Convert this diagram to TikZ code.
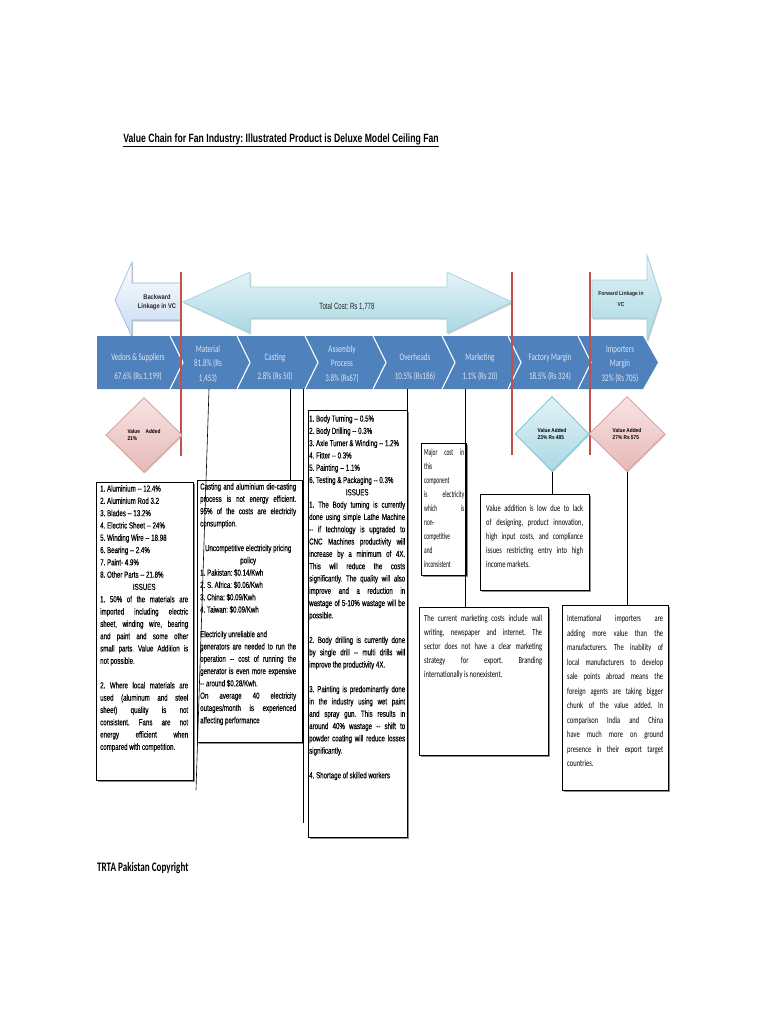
\documentclass[tikz,border=0pt]{standalone}
\usepackage{fontspec}
\setmainfont{Liberation Sans}
\newfontfamily\narrowA{Liberation Sans}[FakeStretch=0.70,FakeBold=0.25]
\newfontfamily\narrowB{Liberation Sans}[FakeStretch=0.85]
\newfontfamily\titlefont{Liberation Sans}[FakeStretch=0.72]
\newfontfamily\narrowC{Carlito}[FakeStretch=0.70]
\newfontfamily\narrowD{Carlito}[FakeStretch=0.58]
\usetikzlibrary{shapes.geometric,shadows}
\definecolor{chev}{HTML}{4F81BD}
\definecolor{chevtxt}{HTML}{DCE6F2}
\definecolor{redl}{HTML}{C0504D}
\definecolor{pinkT}{HTML}{F7E4E3}
\definecolor{pinkB}{HTML}{E6B9B8}
\definecolor{pinkD}{HTML}{D99694}
\definecolor{cyanT}{HTML}{E4F3F7}
\definecolor{cyanB}{HTML}{A9D8E4}
\definecolor{cyanD}{HTML}{6FC0D4}
\definecolor{backT}{HTML}{FFFFFF}
\definecolor{backB}{HTML}{C6D9F1}
\definecolor{backD}{HTML}{95B3D7}
\tikzset{
  chevlabel/.style={text=chevtxt, align=center, inner sep=0pt, font=\narrowC\fontsize{10}{19}\selectfont},
  chevlabelthree/.style={chevlabel, font=\narrowC\fontsize{10}{14.5}\selectfont},
  redline/.style={draw=redl, line width=2.6pt},
  panel/.style={draw=black, line width=0.6pt, fill=white, inner sep=0pt, anchor=north west,
    drop shadow={shadow xshift=1.3pt, shadow yshift=-1.3pt, fill=black!45, opacity=1}},
  txtA/.style={anchor=north west, inner sep=0pt, align=justify, font=\narrowA\fontsize{8.8}{12.3}\selectfont},
  txtC/.style={anchor=north west, inner sep=0pt, align=justify, font=\narrowC\fontsize{9.3}{14}\selectfont},
  conn/.style={draw=black, line width=0.6pt},
  vdiamond/.style={diamond, aspect=1, inner sep=0pt, minimum width=76pt, minimum height=75pt,
    align=left, font=\narrowB\bfseries\fontsize{5.6}{6.6}\selectfont,
    drop shadow={shadow xshift=1pt, shadow yshift=-1pt, fill=black!30, opacity=0.6}},
  pinkdia/.style={vdiamond, top color=pinkT, bottom color=pinkB, draw=pinkD, line width=0.7pt},
  cyandia/.style={vdiamond, top color=cyanT, bottom color=cyanB, draw=cyanD, line width=0.7pt},
  arrowtxt/.style={inner sep=0pt, align=center, text=black!85}
}
\begin{document}
\hyphenpenalty=10000 \tolerance=10000 \frenchspacing
\begin{tikzpicture}[x=1pt,y=-1pt]
\useasboundingbox[fill=white] (0,0) rectangle (768,1024);

% title
\node[inner sep=0pt, font=\titlefont\bfseries\fontsize{12}{14}\selectfont] (title) at (281,140)
  {\underline{Value Chain for Fan Industry: Illustrated Product is Deluxe Model Ceiling Fan}};

% arrows
\path[top color=backT, bottom color=backB, draw=backD, line width=0.6pt,
  drop shadow={shadow xshift=1pt, shadow yshift=-1.5pt, fill=black!40, opacity=0.5}]
  (181,283) -- (132,283) -- (132,262) -- (115,300) -- (132,337) -- (132,320) -- (181,320) -- cycle;
\node[arrowtxt, font=\narrowB\bfseries\fontsize{6.8}{9}\selectfont] (back) at (157,302) {Backward\\Linkage in VC};

\path[top color=cyanT, bottom color=cyanB, draw=cyanD!70, line width=0.6pt,
  drop shadow={shadow xshift=1pt, shadow yshift=-1.5pt, fill=black!40, opacity=0.5}]
  (183,302) -- (250,272) -- (250,287) -- (447,287) -- (447,272) -- (512,302)
  -- (447,333) -- (447,318) -- (250,318) -- (250,333) -- cycle;
\node[arrowtxt, font=\narrowB\fontsize{9}{10}\selectfont, xscale=0.8] (total) at (347,307) {Total Cost: Rs 1,778};

\path[top color=cyanT, bottom color=cyanB, draw=cyanD!70, line width=0.6pt,
  drop shadow={shadow xshift=1pt, shadow yshift=-1.5pt, fill=black!40, opacity=0.5}]
  (592,280) -- (647,280) -- (647,255) -- (661,298) -- (647,341) -- (647,318) -- (592,318) -- cycle;
\node[arrowtxt, font=\narrowB\bfseries\fontsize{5.8}{11}\selectfont] (fwd) at (621,299) {Forward Linkage in\\VC};

% chevron band
\path[fill=chev] (97,336) -- (643,336) -- (658,362.5) -- (643,389) -- (97,389) -- cycle;
\foreach \x in {170,237,305,373,442,508,578}
  \draw[white, line width=1.1pt] (\x,336) -- (\x+13,362.5) -- (\x,389);

\node[chevlabel] (v1) at (138,367) {Vedors \& Suppliers\\67.6\% (Rs.1,199)};
\node[chevlabelthree] (v2) at (208,364) {Material\\81.8\% (Rs\\1,453)};
\node[chevlabel] (v3) at (275,367) {Casting\\2.8\% (Rs 50)};
\node[chevlabelthree] (v4) at (342,364) {Assembly\\Process\\3.8\% (Rs67)};
\node[chevlabel] (v5) at (415,367) {Overheads\\10.5\% (Rs186)};
\node[chevlabel] (v6) at (480,367) {Marketing\\1.1\% (Rs 20)};
\node[chevlabel] (v7) at (550,367) {Factory Margin\\18.5\% (Rs 324)};
\node[chevlabelthree] (v8) at (620,364) {Importers\\Margin\\32\% (Rs 705)};

% red lines
\coordinate (r1t) at (181,272); \coordinate (r1b) at (181,456);
\coordinate (r2t) at (512,272); \coordinate (r2b) at (512,455);
\coordinate (r3t) at (590,272); \coordinate (r3b) at (590,455);
\draw[redline] (r1t) -- (r1b);
\draw[redline] (r2t) -- (r2b);
\draw[redline] (r3t) -- (r3b);

% diamonds
\node[pinkdia] (d1) at (144,435) {Value\quad Added\\21\%};
\node[cyandia, minimum width=74pt] (d2) at (552,434) {Value Added\\23\% Rs 485};
\node[pinkdia] (d3) at (627,434) {Value Added\\27\% Rs 575};

% boxes
\node[panel, minimum width=97pt, minimum height=298pt] (boxA) at (96,482) {};
\node[panel, minimum width=105pt, minimum height=262pt] (boxB) at (197,480) {};
\node[panel, minimum width=99pt, minimum height=427pt] (boxC) at (308,410) {};
\node[panel, minimum width=45pt, minimum height=132pt] (boxD) at (421,443) {};
\node[panel, minimum width=129pt, minimum height=148pt] (boxE) at (419,607) {};
\node[panel, minimum width=109pt, minimum height=96pt] (boxF) at (480,494) {};
\node[panel, minimum width=106pt, minimum height=185pt] (boxG) at (562,605) {};

% connectors
\coordinate (matB) at (209,389); \coordinate (matE) at (196,790);
\draw[conn] (matB) -- (matE);
\coordinate (casB) at (290,389);
\draw[conn] (casB) -- (casB |- boxB.north);
\coordinate (asmB) at (303,389); \coordinate (asmE) at (303,823);
\draw[conn] (asmB) -- (asmE);
\coordinate (ovhB) at (407,389);
\draw[conn] (ovhB) -- (ovhB |- boxC.north);
\coordinate (mktB) at (465,389);
\draw[conn] (mktB) -- (mktB |- boxE.north);
\draw[conn] (d2.south) -- (d2.south |- boxF.north);
\draw[conn] (d3.south) -- (d3.south |- boxG.north);

% box texts
\node[txtA, text width=88pt] (tA) at ([xshift=4pt,yshift=-3pt]boxA.north west) {%
1. Aluminium -- 12.4\%\par
2. Aluminium Rod 3.2\par
3. Blades -- 13.2\%\par
4. Electric Sheet -- 24\%\par
5. Winding Wire -- 18.98\par
6. Bearing -- 2.4\%\par
7. Paint- 4.9\%\par
8. Other Parts -- 21.8\%\par
\centerline{ISSUES}
1. 50\% of the materials are\linebreak imported including electric\linebreak sheet, winding wire, bearing\linebreak and paint and some other\linebreak small parts. Value Addition is\linebreak not possible.\par
\vspace{12.3pt}
2. Where local materials are\linebreak used (aluminum and steel\linebreak sheet) quality is not\linebreak consistent. Fans are not\linebreak energy efficient when\linebreak compared with competition.};

\node[txtA, text width=96pt] (tB) at ([xshift=3pt,yshift=-3pt]boxB.north west) {%
Casting and aluminium die-casting\linebreak process is not energy efficient.\linebreak 95\% of the costs are electricity\linebreak consumption.\par
\vspace{12.3pt}
\centerline{Uncompetitive electricity pricing}
\centerline{policy}
1. Pakistan: \$0.14/Kwh\par
2. S. Africa: \$0.06/Kwh\par
3. China: \$0.09/Kwh\par
4. Taiwan: \$0.09/Kwh\par
\vspace{12.3pt}
Electricity unreliable and\\
generators are needed to run the\linebreak operation -- cost of running the\linebreak generator is even more expensive\linebreak -- around \$0.28/Kwh.\par
On average 40 electricity\linebreak outages/month is experienced\linebreak affecting performance};

\node[txtA, text width=96pt] (tC) at ([xshift=1pt,yshift=-5pt]boxC.north west) {%
1. Body Turning -- 0.5\%\par
2. Body Drilling -- 0.3\%\par
3. Axle Turner \& Winding -- 1.2\%\par
4. Fitter -- 0.3\%\par
5. Painting -- 1.1\%\par
6. Testing \& Packaging -- 0.3\%\par
\centerline{ISSUES}
1. The Body turning is currently\linebreak done using simple Lathe Machine\linebreak -- if technology is upgraded to\linebreak CNC Machines productivity will\linebreak increase by a minimum of 4X.\linebreak This will reduce the costs\linebreak significantly. The quality will also\linebreak improve and a reduction in\linebreak wastage of 5-10\% wastage will be\linebreak possible.\par
\vspace{12.3pt}
2. Body drilling is currently done\linebreak by single drill -- multi drills will\linebreak improve the productivity 4X.\par
\vspace{12.3pt}
3. Painting is predominantly done\linebreak in the industry using wet paint\linebreak and spray gun. This results in\linebreak around 40\% wastage -- shift to\linebreak powder coating will reduce losses\linebreak significantly.\par
\vspace{12.3pt}
4. Shortage of skilled workers};

\node[txtC, text width=40pt, font=\narrowD\fontsize{9.3}{14}\selectfont] (tD) at ([xshift=3pt,yshift=-6pt]boxD.north west) {%
Major cost in\linebreak this\linebreak component\linebreak is electricity\linebreak which is\linebreak non-\linebreak competitive\linebreak and\linebreak inconsistent};

\node[txtC, text width=118pt] (tE) at ([xshift=5pt,yshift=-8pt]boxE.north west) {%
The current marketing costs include wall\linebreak writing, newspaper and internet. The\linebreak sector does not have a clear marketing\linebreak strategy for export. Branding\linebreak internationally is nonexistent.};

\node[txtC, text width=97pt] (tF) at ([xshift=6pt,yshift=-11pt]boxF.north west) {%
Value addition is low due to lack\linebreak of designing, product innovation,\linebreak high input costs, and compliance\linebreak issues restricting entry into high\linebreak income markets.};

\node[txtC, text width=96pt, font=\narrowC\fontsize{9.3}{14.5}\selectfont] (tG) at ([xshift=5pt,yshift=-10pt]boxG.north west) {%
International importers are\linebreak adding more value than the\linebreak manufacturers. The inability of\linebreak local manufacturers to develop\linebreak sale points abroad means the\linebreak foreign agents are taking bigger\linebreak chunk of the value added. In\linebreak comparison India and China\linebreak have much more on ground\linebreak presence in their export target\linebreak countries.};

% footer
\node[anchor=west, inner sep=0pt, font=\narrowC\bfseries\fontsize{13}{15}\selectfont] (copy) at (97,868) {TRTA Pakistan Copyright};
\end{tikzpicture}
\end{document}
